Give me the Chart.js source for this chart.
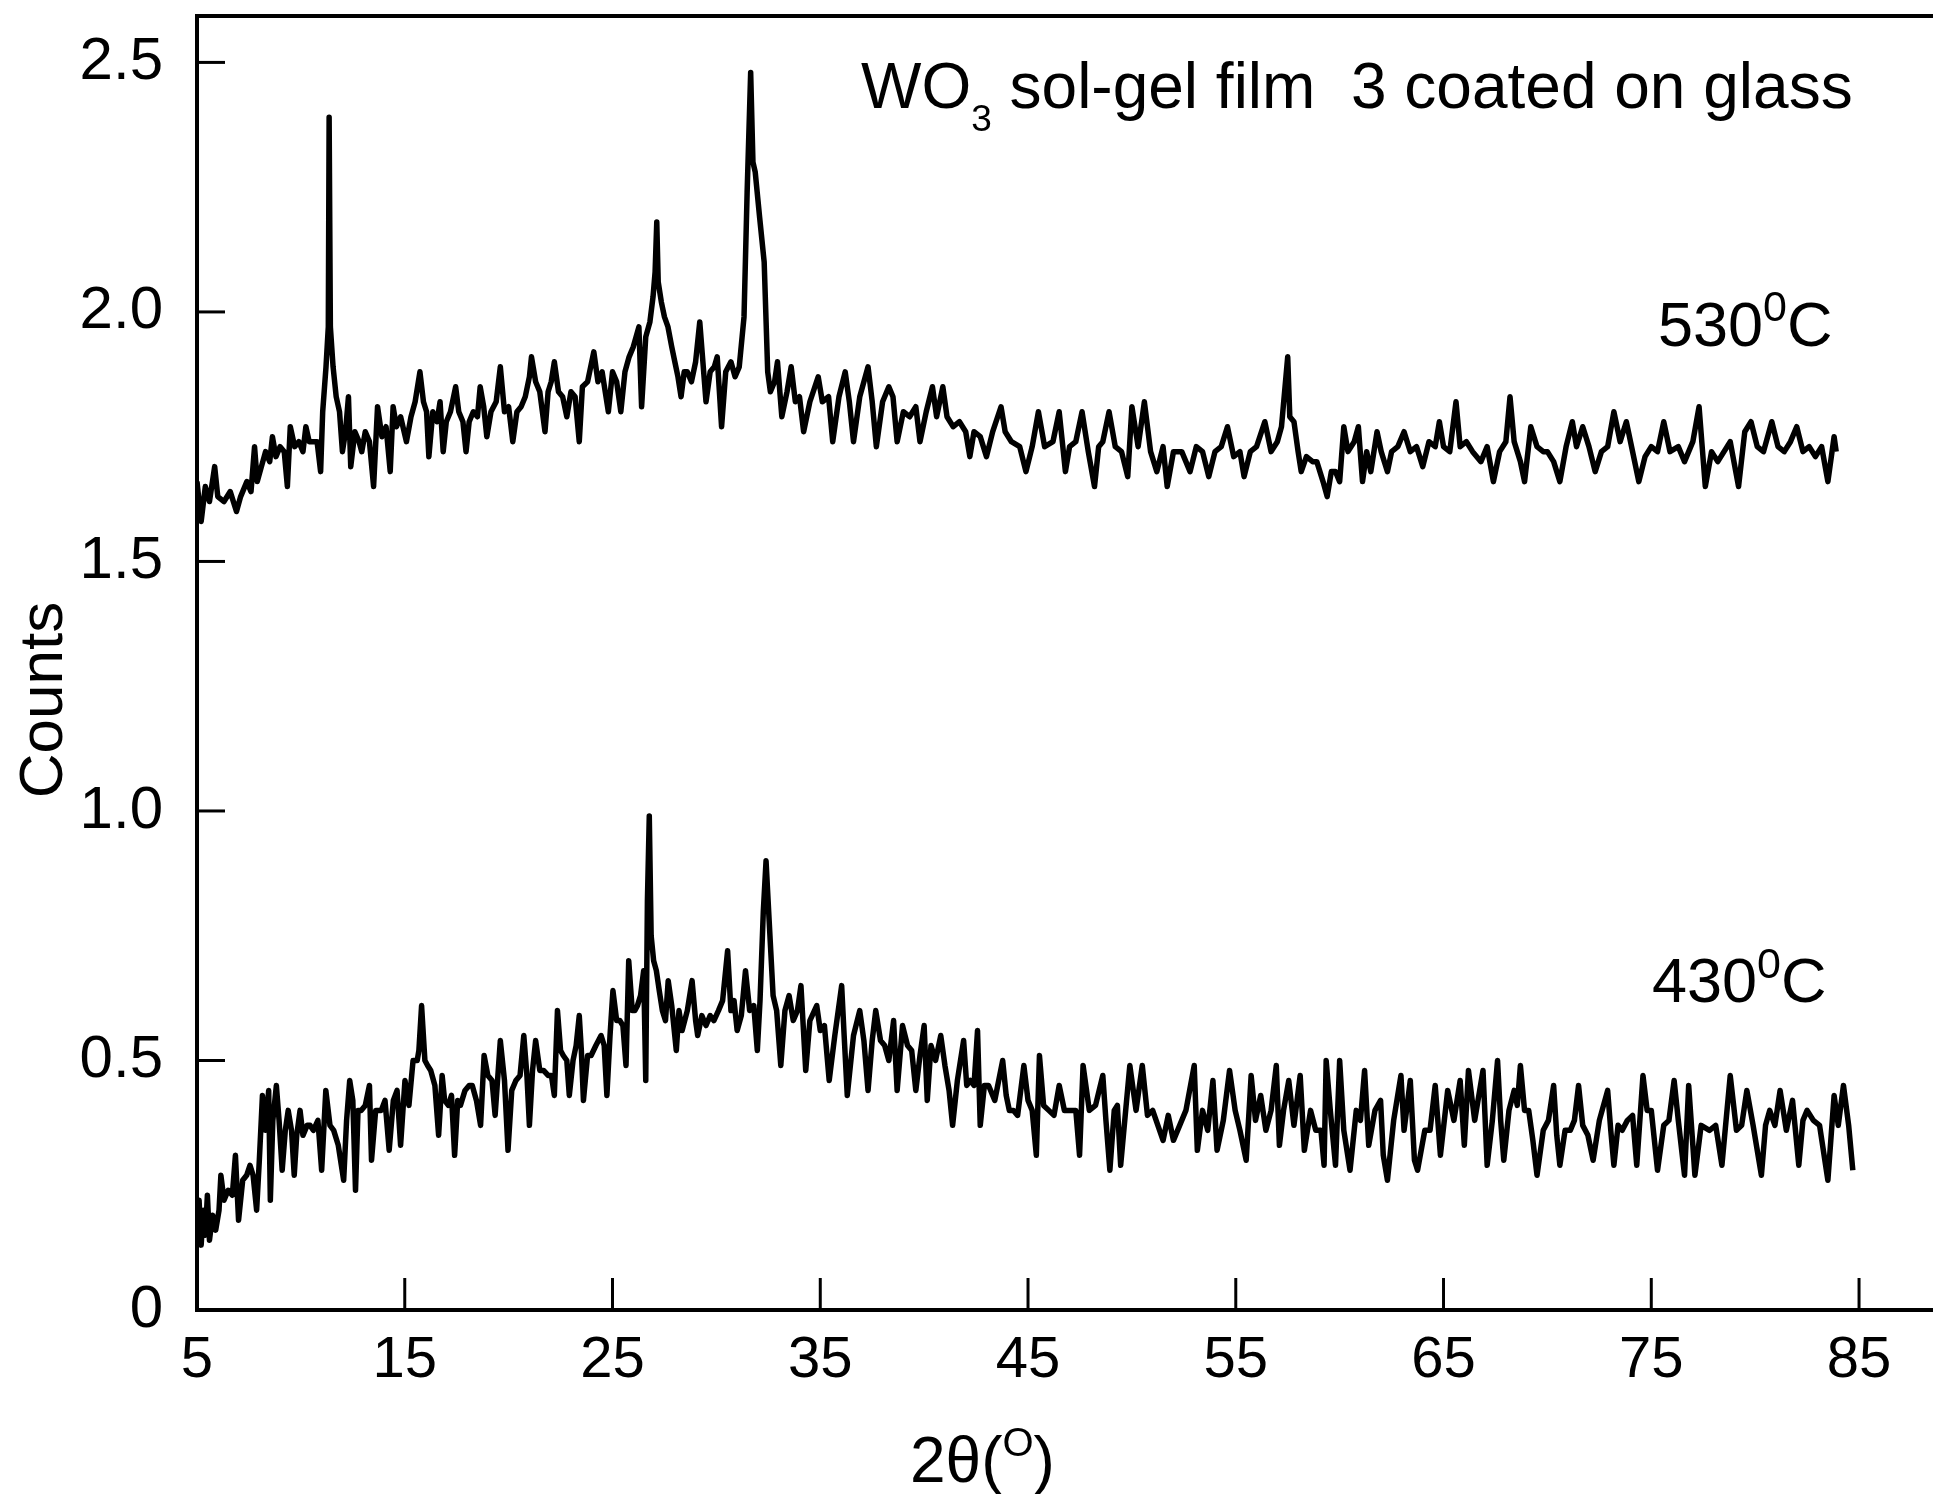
<!DOCTYPE html>
<html>
<head>
<meta charset="utf-8">
<script src="https://cdn.jsdelivr.net/npm/chart.js@4.4.1/dist/chart.umd.min.js"></script>
<style>
  html, body { margin: 0; padding: 0; background: #fff; }
  canvas { display: block; }
</style>
</head>
<body>
<canvas id="xrd" width="1933" height="1494"></canvas>
<script>
const X_TICKS = [5, 15, 25, 35, 45, 55, 65, 75, 85];
const Y_TICKS = [0, 0.5, 1.0, 1.5, 2.0, 2.5];

// [2θ, counts], 530 °C film (upper trace)
const S530 = [
  [5.0,1.66],[5.2,1.58],[5.4,1.65],[5.6,1.62],[5.85,1.69],[6.0,1.63],[6.3,1.62],[6.6,1.64],[6.9,1.60],[7.1,1.63],
  [7.4,1.66],[7.6,1.64],[7.77,1.73],[7.9,1.66],[8.1,1.69],[8.3,1.72],[8.5,1.70],[8.63,1.75],[8.8,1.71],[9.0,1.73],
  [9.2,1.72],[9.35,1.65],[9.49,1.77],[9.7,1.73],[9.9,1.74],[10.1,1.72],[10.24,1.77],[10.4,1.74],[10.6,1.74],[10.78,1.74],
  [10.95,1.68],[11.05,1.80],[11.21,1.89],[11.32,1.97],[11.36,2.39],[11.42,1.97],[11.55,1.89],[11.7,1.83],[11.86,1.80],[12.0,1.72],
  [12.15,1.76],[12.29,1.83],[12.4,1.69],[12.6,1.76],[12.8,1.74],[12.93,1.72],[13.1,1.76],[13.3,1.74],[13.5,1.65],[13.69,1.81],
  [13.9,1.75],[14.1,1.77],[14.3,1.68],[14.44,1.81],[14.6,1.77],[14.8,1.79],[15.08,1.74],[15.3,1.79],[15.5,1.82],[15.73,1.88],
  [15.9,1.82],[16.05,1.80],[16.16,1.71],[16.35,1.80],[16.55,1.78],[16.7,1.82],[16.85,1.72],[17.0,1.78],[17.2,1.80],[17.45,1.85],
  [17.6,1.80],[17.8,1.78],[17.95,1.72],[18.1,1.78],[18.3,1.80],[18.5,1.79],[18.63,1.85],[18.8,1.81],[18.95,1.75],[19.15,1.80],
  [19.4,1.82],[19.6,1.89],[19.8,1.80],[20.0,1.81],[20.2,1.74],[20.4,1.80],[20.6,1.81],[20.8,1.83],[21.0,1.87],[21.1,1.91],
  [21.3,1.86],[21.5,1.84],[21.75,1.76],[21.9,1.84],[22.05,1.86],[22.2,1.90],[22.4,1.84],[22.6,1.83],[22.8,1.79],[23.0,1.84],
  [23.2,1.83],[23.4,1.74],[23.55,1.85],[23.8,1.86],[24.1,1.92],[24.3,1.86],[24.5,1.88],[24.8,1.80],[25.0,1.88],[25.2,1.86],
  [25.4,1.80],[25.6,1.88],[25.8,1.91],[26.0,1.93],[26.27,1.97],[26.4,1.81],[26.6,1.95],[26.8,1.98],[26.95,2.03],[27.05,2.08],
  [27.13,2.18],[27.2,2.06],[27.35,2.02],[27.5,1.99],[27.67,1.97],[27.85,1.93],[28.0,1.90],[28.15,1.87],[28.3,1.83],[28.45,1.88],
  [28.6,1.88],[28.8,1.86],[29.0,1.90],[29.2,1.98],[29.35,1.90],[29.5,1.82],[29.7,1.88],[29.9,1.89],[30.04,1.91],[30.25,1.77],
  [30.45,1.88],[30.7,1.90],[30.9,1.87],[31.1,1.89],[31.33,1.99],[31.48,2.24],[31.65,2.48],[31.76,2.30],[31.87,2.28],[32.08,2.19],
  [32.3,2.10],[32.47,1.88],[32.6,1.84],[32.8,1.86],[32.94,1.90],[33.15,1.79],[33.4,1.84],[33.6,1.89],[33.8,1.82],[34.0,1.83],
  [34.2,1.76],[34.5,1.82],[34.9,1.87],[35.1,1.82],[35.4,1.83],[35.6,1.74],[35.9,1.83],[36.2,1.88],[36.4,1.82],[36.6,1.74],
  [36.9,1.83],[37.3,1.89],[37.5,1.82],[37.7,1.73],[38.0,1.82],[38.3,1.85],[38.5,1.83],[38.7,1.74],[39.0,1.80],[39.3,1.79],
  [39.6,1.81],[39.8,1.74],[40.1,1.80],[40.4,1.85],[40.6,1.79],[40.9,1.85],[41.1,1.79],[41.4,1.77],[41.7,1.78],[42.0,1.76],
  [42.2,1.71],[42.4,1.76],[42.7,1.75],[43.0,1.71],[43.3,1.76],[43.7,1.81],[43.9,1.76],[44.2,1.74],[44.6,1.73],[44.9,1.68],
  [45.2,1.73],[45.5,1.80],[45.8,1.73],[46.2,1.74],[46.5,1.80],[46.8,1.68],[47.0,1.73],[47.3,1.74],[47.6,1.80],[47.9,1.72],
  [48.2,1.65],[48.4,1.73],[48.6,1.74],[48.9,1.80],[49.2,1.73],[49.5,1.72],[49.8,1.67],[50.0,1.81],[50.3,1.73],[50.6,1.82],
  [50.9,1.72],[51.2,1.68],[51.5,1.73],[51.7,1.65],[52.0,1.72],[52.4,1.72],[52.8,1.68],[53.1,1.73],[53.4,1.72],[53.7,1.67],
  [54.0,1.72],[54.3,1.73],[54.6,1.77],[54.9,1.71],[55.2,1.72],[55.4,1.67],[55.7,1.72],[56.0,1.73],[56.4,1.78],[56.7,1.72],
  [57.0,1.74],[57.2,1.77],[57.5,1.91],[57.6,1.79],[57.8,1.78],[58.0,1.72],[58.15,1.68],[58.4,1.71],[58.7,1.70],[58.9,1.70],
  [59.2,1.66],[59.4,1.63],[59.6,1.68],[59.8,1.68],[60.0,1.66],[60.2,1.77],[60.4,1.72],[60.7,1.74],[60.9,1.77],[61.1,1.66],
  [61.3,1.72],[61.5,1.68],[61.8,1.76],[62.0,1.72],[62.3,1.68],[62.5,1.72],[62.8,1.73],[63.1,1.76],[63.4,1.72],[63.7,1.73],
  [64.0,1.69],[64.3,1.74],[64.6,1.73],[64.8,1.78],[65.0,1.73],[65.3,1.72],[65.6,1.82],[65.8,1.73],[66.1,1.74],[66.4,1.72],
  [66.8,1.70],[67.1,1.73],[67.4,1.66],[67.7,1.72],[68.0,1.74],[68.2,1.83],[68.4,1.74],[68.7,1.70],[68.9,1.66],[69.2,1.77],
  [69.5,1.73],[69.8,1.72],[70.0,1.72],[70.3,1.70],[70.6,1.66],[70.9,1.73],[71.2,1.78],[71.4,1.73],[71.7,1.77],[72.0,1.73],
  [72.3,1.68],[72.6,1.72],[72.9,1.73],[73.2,1.80],[73.5,1.74],[73.8,1.78],[74.1,1.72],[74.4,1.66],[74.7,1.71],[75.0,1.73],
  [75.3,1.72],[75.6,1.78],[75.9,1.72],[76.3,1.73],[76.6,1.70],[77.0,1.74],[77.3,1.81],[77.6,1.65],[77.9,1.72],[78.2,1.70],
  [78.5,1.72],[78.8,1.74],[79.2,1.65],[79.5,1.76],[79.8,1.78],[80.1,1.73],[80.4,1.72],[80.8,1.78],[81.1,1.73],[81.4,1.72],
  [81.7,1.74],[82.0,1.77],[82.3,1.72],[82.6,1.73],[82.9,1.71],[83.2,1.73],[83.5,1.66],[83.8,1.75],[83.9,1.72]
];

// [2θ, counts], 430 °C film (lower trace)
const S430 = [
  [5.0,0.18],[5.1,0.22],[5.2,0.13],[5.3,0.20],[5.4,0.15],[5.5,0.23],[5.6,0.14],[5.75,0.19],[5.9,0.16],[6.06,0.20],
  [6.15,0.27],[6.3,0.22],[6.5,0.24],[6.7,0.23],[6.85,0.31],[7.0,0.18],[7.2,0.26],[7.39,0.27],[7.55,0.29],[7.7,0.27],
  [7.87,0.20],[8.0,0.30],[8.15,0.43],[8.3,0.36],[8.45,0.44],[8.53,0.22],[8.65,0.38],[8.82,0.45],[8.95,0.38],[9.1,0.28],
  [9.25,0.36],[9.39,0.40],[9.55,0.36],[9.68,0.27],[9.8,0.35],[9.96,0.40],[10.1,0.35],[10.3,0.37],[10.44,0.37],[10.6,0.36],
  [10.82,0.38],[11.0,0.28],[11.2,0.44],[11.4,0.37],[11.58,0.36],[11.8,0.33],[12.06,0.26],[12.2,0.38],[12.35,0.46],[12.5,0.42],
  [12.63,0.24],[12.75,0.40],[12.9,0.40],[13.1,0.41],[13.3,0.45],[13.4,0.30],[13.6,0.40],[13.87,0.40],[14.05,0.42],[14.25,0.32],
  [14.45,0.42],[14.63,0.44],[14.8,0.33],[15.01,0.46],[15.2,0.41],[15.4,0.50],[15.6,0.50],[15.68,0.52],[15.81,0.61],[15.97,0.50],
  [16.1,0.49],[16.25,0.48],[16.45,0.45],[16.63,0.35],[16.8,0.47],[16.92,0.42],[17.1,0.41],[17.25,0.43],[17.4,0.31],[17.55,0.42],
  [17.68,0.41],[17.9,0.44],[18.1,0.45],[18.25,0.45],[18.45,0.42],[18.65,0.37],[18.82,0.51],[19.0,0.47],[19.2,0.46],[19.35,0.39],
  [19.6,0.54],[19.8,0.46],[19.97,0.32],[20.15,0.44],[20.35,0.46],[20.55,0.47],[20.73,0.55],[20.88,0.47],[21.0,0.37],[21.15,0.48],
  [21.3,0.54],[21.5,0.48],[21.68,0.48],[21.9,0.47],[22.06,0.47],[22.2,0.43],[22.35,0.60],[22.5,0.52],[22.63,0.51],[22.8,0.50],
  [22.92,0.43],[23.1,0.50],[23.25,0.53],[23.4,0.59],[23.5,0.52],[23.6,0.42],[23.8,0.51],[23.97,0.51],[24.2,0.53],[24.45,0.55],
  [24.6,0.53],[24.73,0.43],[24.88,0.55],[25.02,0.64],[25.2,0.58],[25.35,0.58],[25.5,0.57],[25.65,0.49],[25.78,0.70],[25.95,0.60],
  [26.07,0.60],[26.2,0.61],[26.35,0.63],[26.5,0.68],[26.6,0.46],[26.68,0.82],[26.77,0.99],[26.86,0.75],[26.98,0.70],[27.11,0.68],
  [27.25,0.64],[27.4,0.60],[27.55,0.58],[27.68,0.66],[27.85,0.61],[28.07,0.52],[28.2,0.60],[28.35,0.56],[28.6,0.60],[28.83,0.66],
  [29.0,0.58],[29.1,0.55],[29.3,0.59],[29.5,0.57],[29.7,0.59],[29.88,0.58],[30.1,0.60],[30.3,0.62],[30.54,0.72],[30.7,0.60],
  [30.85,0.62],[31.0,0.56],[31.2,0.59],[31.4,0.68],[31.6,0.60],[31.8,0.61],[31.97,0.52],[32.1,0.62],[32.26,0.80],[32.39,0.90],
  [32.54,0.78],[32.73,0.63],[32.9,0.60],[33.1,0.49],[33.3,0.60],[33.5,0.63],[33.7,0.58],[33.9,0.60],[34.07,0.65],[34.3,0.48],
  [34.5,0.58],[34.83,0.61],[35.0,0.56],[35.2,0.57],[35.43,0.46],[35.7,0.55],[36.03,0.65],[36.15,0.55],[36.3,0.43],[36.6,0.55],
  [36.9,0.60],[37.1,0.54],[37.3,0.44],[37.5,0.54],[37.67,0.60],[37.9,0.54],[38.1,0.53],[38.3,0.50],[38.53,0.58],[38.7,0.44],
  [38.96,0.57],[39.2,0.53],[39.4,0.52],[39.6,0.44],[39.8,0.51],[40.0,0.57],[40.15,0.42],[40.33,0.53],[40.55,0.50],[40.8,0.55],
  [41.0,0.49],[41.2,0.44],[41.37,0.37],[41.6,0.46],[41.9,0.54],[42.05,0.45],[42.23,0.46],[42.4,0.45],[42.57,0.56],[42.7,0.37],
  [42.9,0.45],[43.1,0.45],[43.4,0.42],[43.78,0.50],[43.95,0.43],[44.1,0.40],[44.3,0.40],[44.5,0.39],[44.8,0.49],[45.0,0.42],
  [45.2,0.40],[45.4,0.31],[45.55,0.51],[45.75,0.41],[46.0,0.40],[46.25,0.39],[46.5,0.45],[46.75,0.40],[47.05,0.40],[47.3,0.40],
  [47.48,0.31],[47.65,0.49],[47.95,0.40],[48.25,0.41],[48.6,0.47],[48.75,0.38],[48.94,0.28],[49.15,0.40],[49.3,0.41],[49.46,0.29],
  [49.7,0.40],[49.9,0.49],[50.2,0.40],[50.5,0.49],[50.75,0.39],[51.0,0.40],[51.25,0.37],[51.5,0.34],[51.75,0.39],[52.0,0.34],
  [52.3,0.37],[52.6,0.40],[53.0,0.49],[53.15,0.32],[53.4,0.40],[53.65,0.36],[53.9,0.46],[54.1,0.32],[54.4,0.38],[54.7,0.48],
  [54.97,0.40],[55.2,0.36],[55.5,0.30],[55.74,0.47],[55.95,0.38],[56.2,0.43],[56.45,0.36],[56.7,0.40],[56.95,0.49],[57.1,0.33],
  [57.3,0.40],[57.55,0.46],[57.8,0.37],[58.1,0.47],[58.3,0.32],[58.6,0.40],[58.85,0.36],[59.1,0.36],[59.25,0.29],[59.35,0.50],
  [59.55,0.40],[59.8,0.29],[60.0,0.50],[60.2,0.36],[60.5,0.28],[60.8,0.40],[61.0,0.38],[61.2,0.48],[61.4,0.33],[61.7,0.40],
  [61.97,0.42],[62.1,0.31],[62.3,0.26],[62.6,0.38],[62.95,0.47],[63.1,0.36],[63.4,0.46],[63.6,0.30],[63.75,0.28],[64.1,0.36],
  [64.35,0.36],[64.6,0.45],[64.85,0.31],[65.2,0.44],[65.5,0.38],[65.8,0.46],[66.0,0.33],[66.2,0.48],[66.5,0.38],[66.9,0.48],
  [67.1,0.29],[67.35,0.38],[67.6,0.50],[67.75,0.38],[67.9,0.30],[68.15,0.40],[68.4,0.44],[68.55,0.41],[68.7,0.49],[68.9,0.40],
  [69.1,0.40],[69.3,0.34],[69.5,0.27],[69.8,0.36],[70.05,0.38],[70.3,0.45],[70.45,0.35],[70.6,0.29],[70.85,0.36],[71.1,0.36],
  [71.3,0.38],[71.5,0.45],[71.7,0.37],[71.95,0.35],[72.2,0.30],[72.5,0.38],[72.9,0.44],[73.05,0.36],[73.2,0.29],[73.4,0.37],
  [73.6,0.36],[73.85,0.38],[74.1,0.39],[74.3,0.29],[74.6,0.47],[74.8,0.40],[75.0,0.40],[75.3,0.28],[75.6,0.37],[75.85,0.38],
  [76.1,0.46],[76.3,0.38],[76.6,0.27],[76.8,0.45],[77.1,0.27],[77.4,0.37],[77.8,0.36],[78.1,0.37],[78.4,0.29],[78.6,0.38],
  [78.8,0.47],[79.1,0.36],[79.35,0.37],[79.6,0.44],[79.9,0.37],[80.3,0.27],[80.5,0.37],[80.7,0.40],[80.95,0.37],[81.2,0.44],
  [81.5,0.36],[81.8,0.42],[82.1,0.29],[82.3,0.38],[82.5,0.40],[82.8,0.38],[83.1,0.37],[83.5,0.26],[83.8,0.43],[84.0,0.37],
  [84.25,0.45],[84.5,0.37],[84.7,0.28]
];

const FONT = '"Liberation Sans", Arial, Helvetica, sans-serif';
const Y_TITLE = 'Counts';

// draws runs of text with sub/superscripts: [text, size, baseline shift]
function drawRuns(ctx, runs, x, y) {
  runs.forEach(([txt, size, dy]) => {
    ctx.font = size + 'px ' + FONT;
    ctx.fillText(txt, x, y + dy);
    x += ctx.measureText(txt).width;
  });
}

const decor = {
  id: 'decor',
  afterDraw(chart) {
    const { ctx, chartArea: a, scales: { x, y } } = chart;
    ctx.save();
    ctx.strokeStyle = '#000';
    ctx.lineWidth = 4;
    ctx.beginPath();
    ctx.moveTo(a.left - 2, a.top);
    ctx.lineTo(a.right, a.top);
    ctx.stroke();

    // inward tick marks
    ctx.lineWidth = 3;
    X_TICKS.slice(1).forEach(v => {
      const px = x.getPixelForValue(v);
      ctx.beginPath();
      ctx.moveTo(px, a.bottom);
      ctx.lineTo(px, a.bottom - 32);
      ctx.stroke();
    });
    Y_TICKS.slice(1).forEach(v => {
      const py = y.getPixelForValue(v);
      ctx.beginPath();
      ctx.moveTo(a.left, py);
      ctx.lineTo(a.left + 28, py);
      ctx.stroke();
    });

    ctx.fillStyle = '#000';
    ctx.textAlign = 'left';
    ctx.textBaseline = 'alphabetic';

    drawRuns(ctx, [['WO', 64, 0], ['3', 37, 23], [' sol-gel film  3 coated on glass', 64, 0]], 861, 108);
    drawRuns(ctx, [['530', 63, 0], ['0', 43, -25], ['C', 63, 0]], 1658, 346);
    drawRuns(ctx, [['430', 63, 0], ['0', 43, -24], ['C', 63, 0]], 1652, 1002);
    drawRuns(ctx, [['2θ(', 64, 0], ['O', 40, -26], [')', 64, 0]], 910, 1482);

    ctx.translate(62, 700);
    ctx.rotate(-Math.PI / 2);
    ctx.textAlign = 'center';
    ctx.font = '62px ' + FONT;
    ctx.fillText(Y_TITLE, 0, 0);
    ctx.restore();
  }
};

const line = (label, pts) => ({
  label,
  data: pts.map(([x, y]) => ({ x, y })),
  showLine: true,
  borderColor: '#000',
  backgroundColor: '#000',
  borderWidth: 5.5,
  borderJoinStyle: 'round',
  pointRadius: 0,
  tension: 0
});

new Chart(document.getElementById('xrd'), {
  type: 'scatter',
  data: {
    datasets: [line('530°C', S530), line('430°C', S430)]
  },
  options: {
    responsive: false,
    animation: false,
    devicePixelRatio: 1,
    layout: { padding: { top: 16, right: 0, bottom: 0, left: 0 } },
    plugins: { legend: { display: false }, tooltip: { enabled: false } },
    scales: {
      x: {
        type: 'linear',
        min: 5,
        max: 88.56,
        afterBuildTicks: s => { s.ticks = X_TICKS.map(v => ({ value: v })); },
        afterFit: s => { s.height = 184; s.paddingLeft = 0; s.paddingRight = 0; },
        grid: { display: false, drawTicks: false },
        border: { display: true, color: '#000', width: 4 },
        ticks: {
          color: '#000',
          font: { family: FONT, size: 58 },
          padding: 16,
          maxRotation: 0,
          autoSkip: false,
          callback: v => String(v)
        }
      },
      y: {
        type: 'linear',
        min: 0,
        max: 2.593,
        afterBuildTicks: s => { s.ticks = Y_TICKS.map(v => ({ value: v })); },
        afterFit: s => { s.width = 197; s.paddingTop = 0; s.paddingBottom = 0; },
        grid: { display: false, drawTicks: false },
        border: { display: true, color: '#000', width: 4 },
        ticks: {
          color: '#000',
          font: { family: FONT, size: 60 },
          padding: 34,
          autoSkip: false,
          callback: v => v === 0 ? '0' : v.toFixed(1)
        }
      }
    }
  },
  plugins: [decor]
});
</script>
</body>
</html>
